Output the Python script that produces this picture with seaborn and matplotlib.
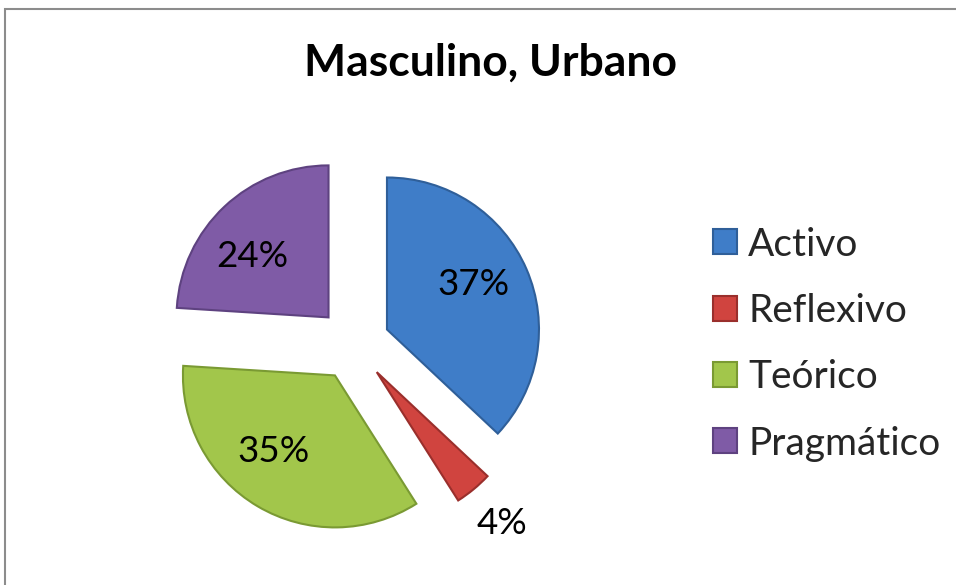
import numpy as np
import matplotlib
matplotlib.use("Agg")
import matplotlib.pyplot as plt
import seaborn as sns
from matplotlib.patches import Rectangle

categories = ["Activo", "Reflexivo", "Teórico", "Pragmático"]
values = [37, 4, 35, 24]
colors = ["#3F7DC8", "#D0443F", "#A2C64B", "#7F5BA6"]
edge_colors = ["#2F5F99", "#9A2F2C", "#7A9A33", "#5E4280"]
title = "Masculino, Urbano"

sns.set_theme(style="white")
plt.rcParams["font.family"] = ["Lato", "DejaVu Sans"]

W, H = 956, 585
fig = plt.figure(figsize=(W / 100, H / 100), dpi=100)

# pie axes: center at (353.5, 344 from top), radius 152 px
R = 152
cx, cy = 353.5, H - 344
half = 1.5 * R
ax = fig.add_axes([(cx - half) / W, (cy - half) / H, 2 * half / W, 2 * half / H])

explode = [0.24] * len(values)
wedges, texts, autotexts = ax.pie(
    values, colors=colors, startangle=90, counterclock=False,
    explode=explode, radius=1.0,
    autopct=lambda p: f"{p:.0f}%", pctdistance=0.64,
    wedgeprops=dict(linewidth=1.5),
    textprops=dict(fontsize=26.5, color="black"),
)
for w, ec in zip(wedges, edge_colors):
    w.set_edgecolor(ec)

# label placement: small slice label outside
for w, t, v in zip(wedges, autotexts, values):
    ang = np.deg2rad((w.theta1 + w.theta2) / 2)
    if v < 10:
        dist = 1.53
    else:
        dist = 0.88
        ang += np.deg2rad(-6 if np.cos(ang) < 0 and np.sin(ang) < 0 else (6 if np.cos(ang) < 0 else 3))
    t.set_position((dist * np.cos(ang), dist * np.sin(ang)))

ax.set_xlim(-1.5, 1.5)
ax.set_ylim(-1.5, 1.5)
ax.set_aspect("equal")
ax.axis("off")

fig.text(491 / W, 1 - 63 / H, title, ha="center", va="center",
         fontsize=32, fontweight="bold", color="black")

leg = fig.legend(wedges, categories, loc="center left",
                 bbox_to_anchor=(713 / W, 1 - 344 / H),
                 frameon=False, fontsize=28, handlelength=0.62, handleheight=0.62,
                 handletextpad=0.28, labelspacing=0.78,
                 borderpad=0, borderaxespad=0)

# outer border
fig.patches.append(Rectangle((5 / W, -0.1), 1.1, 1 - 9 / H + 0.1,
                             transform=fig.transFigure, fill=False,
                             edgecolor="#8C8C8C", linewidth=1.5))

fig.savefig("out.png", dpi=100, facecolor="white")
